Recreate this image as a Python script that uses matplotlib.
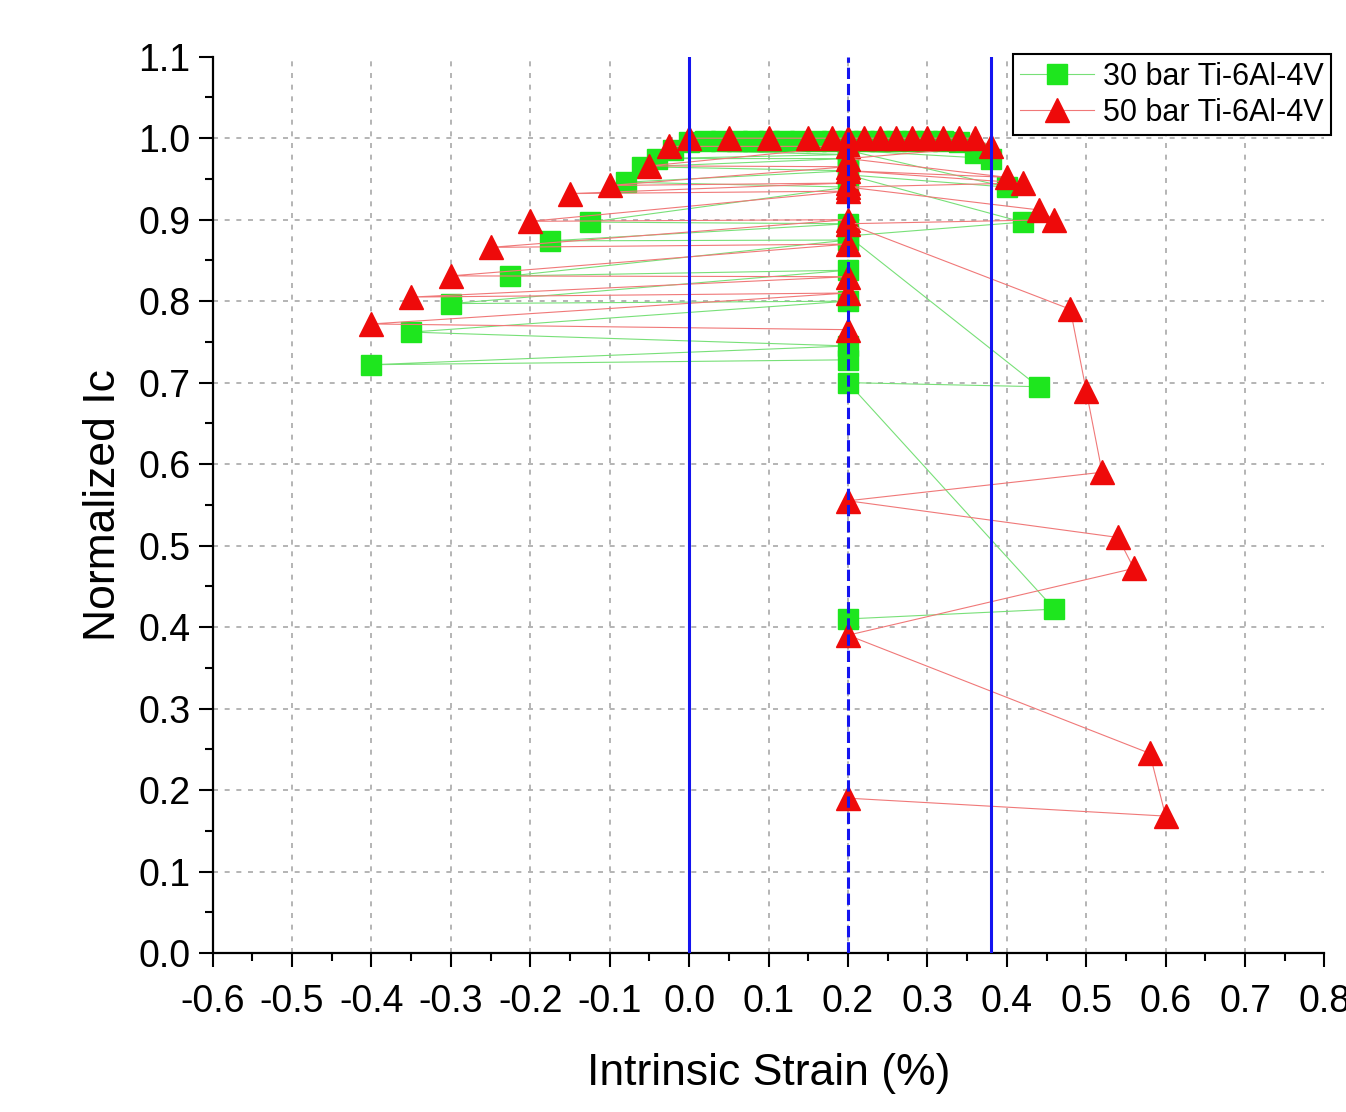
import matplotlib.pyplot as plt
from matplotlib.ticker import MultipleLocator

plt.rcParams['font.family'] = ['Liberation Sans', 'DejaVu Sans']

# 30 bar Ti-6Al-4V, compressive branch (strain point, then release at 0.2)
g_comp_x = [-0.02, 0.2, -0.04, 0.2, -0.06, 0.2, -0.08, 0.2, -0.125, 0.2,
            -0.175, 0.2, -0.225, 0.2, -0.3, 0.2, -0.35, 0.2, -0.4, 0.2]
g_comp_y = [0.985, 0.98, 0.975, 0.975, 0.965, 0.96, 0.946, 0.94, 0.897, 0.895,
            0.874, 0.875, 0.831, 0.838, 0.797, 0.80, 0.762, 0.745, 0.722, 0.728]
# 30 bar Ti-6Al-4V, tensile branch
g_ten_x = [0.0, 0.02, 0.04, 0.06, 0.08, 0.10, 0.12, 0.14, 0.16, 0.18, 0.2, 0.22,
           0.24, 0.26, 0.28, 0.30, 0.32, 0.34, 0.36, 0.38, 0.2, 0.40, 0.2, 0.42,
           0.2, 0.44, 0.2, 0.46, 0.2]
g_ten_y = [0.995, 0.997, 0.997, 0.997, 0.997, 0.997, 0.997, 0.997, 0.997, 0.997,
           0.997, 0.997, 0.997, 0.997, 0.997, 0.997, 0.997, 0.995, 0.982, 0.975,
           0.985, 0.94, 0.955, 0.897, 0.88, 0.695, 0.70, 0.422, 0.41]

# 50 bar Ti-6Al-4V, compressive branch
r_comp_x = [-0.025, 0.2, -0.05, 0.2, -0.1, 0.2, -0.15, 0.2, -0.2, 0.2,
            -0.25, 0.2, -0.3, 0.2, -0.35, 0.2, -0.4, 0.2]
r_comp_y = [0.99, 0.99, 0.966, 0.965, 0.942, 0.945, 0.932, 0.935, 0.898, 0.90,
            0.866, 0.87, 0.831, 0.83, 0.805, 0.81, 0.772, 0.765]
# 50 bar Ti-6Al-4V, tensile branch
r_ten_x = [0.0, 0.05, 0.10, 0.15, 0.18, 0.2, 0.22, 0.24, 0.26, 0.28, 0.30, 0.32,
           0.34, 0.36, 0.38, 0.2, 0.40, 0.2, 0.42, 0.2, 0.44, 0.46, 0.2, 0.48,
           0.50, 0.52, 0.2, 0.54, 0.56, 0.2, 0.58, 0.60, 0.2]
r_ten_y = [1.0, 1.0, 1.0, 1.0, 1.0, 1.0, 1.0, 1.0, 1.0, 1.0, 1.0, 1.0,
           1.0, 1.0, 0.99, 0.975, 0.952, 0.96, 0.945, 0.94, 0.912, 0.90, 0.895, 0.79,
           0.69, 0.59, 0.555, 0.51, 0.472, 0.39, 0.245, 0.168, 0.19]

ref_lines = [0.0, 0.2, 0.38]
ref_styles = ['-', '--', '-']

fig = plt.figure(figsize=(13.46, 11.12), dpi=100)
ax = fig.add_axes([0.158, 0.143, 0.826, 0.806])

# gridlines only at inner major ticks
for xv in [-0.5, -0.4, -0.3, -0.2, -0.1, 0.0, 0.1, 0.2, 0.3, 0.4, 0.5, 0.6, 0.7]:
    ax.axvline(xv, color='#a8a8a8', lw=1.2, ls=(0, (3, 4)), zorder=0)
for yv in [0.1, 0.2, 0.3, 0.4, 0.5, 0.6, 0.7, 0.8, 0.9, 1.0]:
    ax.axhline(yv, color='#a8a8a8', lw=1.2, ls=(0, (3, 4)), zorder=0)

g_line = '#78e078'
g_face = '#1ee61e'
r_line = '#f07878'
r_face = '#ee0a0a'

ax.plot(g_comp_x, g_comp_y, color=g_line, lw=0.8, marker='s', ms=14,
        mfc=g_face, mec=g_face, zorder=3, label='30 bar Ti-6Al-4V')
ax.plot(g_ten_x, g_ten_y, color=g_line, lw=0.8, marker='s', ms=14,
        mfc=g_face, mec=g_face, zorder=3)
ax.plot(r_comp_x, r_comp_y, color=r_line, lw=0.8, marker='^', ms=17,
        mfc=r_face, mec=r_face, zorder=4, label='50 bar Ti-6Al-4V')
ax.plot(r_ten_x, r_ten_y, color=r_line, lw=0.8, marker='^', ms=17,
        mfc=r_face, mec=r_face, zorder=4)

for xv, st in zip(ref_lines, ref_styles):
    ax.axvline(xv, color='#1414f0', lw=2.2, ls=st, zorder=6)

ax.set_xlim(-0.6, 0.8)
ax.set_ylim(0.0, 1.1)
ax.xaxis.set_major_locator(MultipleLocator(0.1))
ax.xaxis.set_minor_locator(MultipleLocator(0.05))
ax.yaxis.set_major_locator(MultipleLocator(0.1))
ax.yaxis.set_minor_locator(MultipleLocator(0.05))
ax.xaxis.set_major_formatter(plt.FuncFormatter(lambda v, p: f'{v:.1f}'))
ax.yaxis.set_major_formatter(plt.FuncFormatter(lambda v, p: f'{v:.1f}'))

for s in ['top', 'right']:
    ax.spines[s].set_visible(False)
for s in ['left', 'bottom']:
    ax.spines[s].set_linewidth(1.6)

ax.tick_params(which='major', direction='out', length=10, width=1.5, labelsize=27)
ax.tick_params(which='minor', direction='out', length=6, width=1.5)
ax.tick_params(axis='x', pad=12)
ax.tick_params(axis='y', pad=6)

ax.set_xlabel('Intrinsic Strain (%)', fontsize=32, labelpad=24)
ax.set_ylabel('Normalized Ic', fontsize=32, labelpad=10)

leg = ax.legend(loc='upper right', bbox_to_anchor=(1.006, 1.003), fontsize=22,
                fancybox=False, edgecolor='black', framealpha=1,
                handlelength=2.4, handletextpad=0.3, borderpad=0.25,
                labelspacing=0.2, borderaxespad=0)
leg.get_frame().set_linewidth(1.5)
leg.set_zorder(10)

fig.savefig('out.png', dpi=100)
